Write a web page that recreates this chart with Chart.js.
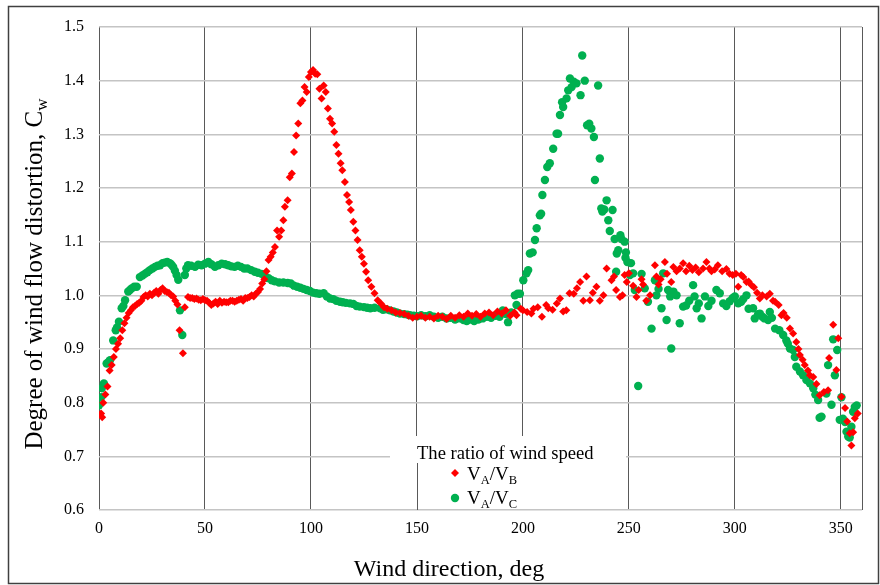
<!DOCTYPE html>
<html>
<head>
<meta charset="utf-8">
<script src="https://cdn.jsdelivr.net/npm/chart.js@4/dist/chart.umd.min.js"></script>
<style>
  body { margin: 0; background: #fff; }
  #wrap { width: 880px; height: 585px; }
</style>
</head>
<body>
<div id="wrap"><canvas id="windChart" width="880" height="585"></canvas></div>
<script>
// Wind direction (deg) and ratio V_A/V_B
const dirB = [
  1, 1.5, 2, 3, 4, 5, 6, 7, 8, 9,
  10, 11, 12, 13, 14, 15, 16, 17, 18, 19,
  20, 21, 22, 23, 24, 25, 26, 27, 28, 29,
  30, 31, 32, 33, 34, 35, 36, 37, 38, 39.6,
  40.5, 42, 43, 44, 45, 46, 47, 48, 49, 50,
  51, 52, 53, 54, 55, 56, 57, 58, 59, 60,
  61, 62, 63, 64, 65, 66, 67, 68, 69, 70,
  71, 72, 73, 74, 75, 76, 77, 78, 79, 80,
  81, 82, 83, 84, 85, 86, 87, 87.7, 89, 90,
  91, 92, 93, 94, 95, 96, 97, 98, 99, 100,
  101, 102, 103, 104, 105, 106, 107, 108, 109, 110,
  111, 112, 113, 114, 114.8, 116, 117, 118, 118.8, 120,
  121, 122, 123, 124, 125, 126, 127, 128.5, 130, 131.5,
  133, 134.5, 136, 138, 140, 142, 144, 146, 148, 150,
  152, 154, 156, 158, 160, 162, 164, 166, 168, 170,
  172, 174, 176, 178, 180, 182, 184, 186, 188, 190,
  192, 194, 196, 197, 199, 200, 202, 204, 205, 207,
  209, 211, 212, 214, 216, 217.5, 219, 220.5, 222, 224,
  225.5, 227, 228.5, 230, 231.6, 233, 234.7, 236.3, 238, 239.5,
  241.8, 243, 244, 245.8, 247, 248, 249, 250, 252, 253.6,
  254.6, 256, 256.7, 258.2, 260, 262.3, 263, 264, 265, 267,
  268, 270, 271, 272.5, 274, 275.6, 277, 278.5, 280, 281.5,
  283, 285, 286.6, 288, 289, 290.5, 292, 294, 296, 297.5,
  299, 300.5, 301.6, 303, 304, 305.5, 306.5, 307.9, 309, 310.5,
  311.8, 313, 315, 316.5, 318, 319, 320.7, 322, 323, 324.5,
  326, 327.5, 329, 330, 330.7, 332, 333, 334.5, 335.4, 337,
  338.5, 340, 342, 344, 344.5, 346.4, 347.9, 348.8, 350.3, 352,
  353, 354.2, 355, 355.8, 356.6, 358
];
const ratioB = [
  0.78, 0.773, 0.80, 0.815, 0.83, 0.86, 0.87, 0.885, 0.90, 0.91,
  0.92, 0.935, 0.948, 0.958, 0.967, 0.972, 0.978, 0.98, 0.984, 0.986,
  0.99, 0.997, 1.0, 0.998, 1.003, 1.0, 1.005, 1.008, 1.003, 1.01,
  1.013, 1.008, 1.006, 1.005, 1.0, 0.998, 0.99, 0.983, 0.935, 0.892,
  0.978, 0.997, 0.995, 0.995, 0.993, 0.994, 0.992, 0.991, 0.993, 0.991,
  0.99, 0.986, 0.982, 0.985, 0.988, 0.984, 0.99, 0.986, 0.988, 0.987,
  0.987, 0.99, 0.99, 0.988, 0.99, 0.992, 0.993, 0.99, 0.995, 0.995,
  0.997, 1.0, 0.998, 1.003, 1.006, 1.012, 1.022, 1.03, 1.045, 1.066,
  1.072, 1.08, 1.09, 1.121, 1.109, 1.121, 1.14, 1.165, 1.177, 1.22,
  1.227, 1.267, 1.298, 1.32, 1.358, 1.363, 1.388, 1.379, 1.407, 1.416,
  1.42, 1.413, 1.412, 1.385, 1.367, 1.391, 1.379, 1.348, 1.329, 1.32,
  1.305, 1.28, 1.264, 1.246, 1.233, 1.211, 1.187, 1.174, 1.159, 1.137,
  1.121, 1.103, 1.084, 1.072, 1.059, 1.044, 1.028, 1.016, 1.004, 0.991,
  0.985, 0.978, 0.975, 0.972, 0.968, 0.967, 0.965, 0.962, 0.958, 0.96,
  0.962, 0.958, 0.96, 0.957, 0.962, 0.96, 0.956, 0.962, 0.958, 0.963,
  0.96, 0.966, 0.962, 0.965, 0.96, 0.966, 0.968, 0.963, 0.97, 0.966,
  0.972, 0.962, 0.968, 0.963, 0.975, 0.972, 0.969, 0.966, 0.975, 0.978,
  0.96, 0.982, 0.976, 0.973, 0.985, 0.994, 0.97, 0.972, 1.004, 1.003,
  1.013, 1.025, 0.99, 1.035, 0.991, 1.005, 1.016, 0.99, 1.0, 1.05,
  1.028, 1.035, 1.01, 0.997, 1.0, 1.038, 1.025, 1.041, 1.018, 0.997,
  1.01, 1.03, 1.02, 0.99, 1.0, 1.056, 1.035, 1.02, 1.03, 1.062,
  1.04, 1.025, 1.053, 1.045, 1.05, 1.06, 1.045, 1.055, 1.047, 1.052,
  1.043, 1.05, 1.062, 1.05, 1.045, 1.048, 1.056, 1.045, 1.049, 1.04,
  1.038, 1.04, 1.016, 1.038, 1.034, 1.025, 1.026, 1.019, 1.015, 1.005,
  0.994, 1.0, 0.998, 1.003, 0.99, 0.988, 0.982, 0.963, 0.967, 0.958,
  0.938, 0.929, 0.913, 0.9, 0.889, 0.88, 0.87, 0.86, 0.851, 0.848,
  0.835, 0.814, 0.82, 0.823, 0.883, 0.945, 0.861, 0.92, 0.811, 0.79,
  0.765, 0.743, 0.72, 0.745, 0.771, 0.78
];

// Wind direction (deg) and ratio V_A/V_C
const dirC = [
  0, 1, 1.3, 2.3, 3.6, 4.5, 5.2, 6.7, 7.9, 8.5,
  9.4, 10.7, 11.5, 12.3, 13.8, 14.6, 15.4, 16.6, 17.8, 19.3,
  20.5, 21.6, 22.8, 24, 25.2, 26.4, 27.6, 28.8, 30, 31,
  32.2, 33.4, 34.2, 35, 35.8, 36.6, 37.4, 38.2, 39.3, 40.5,
  41.2, 42, 43.5, 45.3, 46.8, 48.4, 50, 51.6, 53, 54.7,
  56.3, 57.9, 59.5, 61, 62.5, 64, 65.5, 67, 68.5, 70,
  71.8, 73.5, 75, 76.7, 78.3, 80, 81.5, 83, 85, 87,
  89, 90.5, 92, 93.5, 95, 96.5, 98, 99.5, 101, 102.5,
  104, 106, 107.5, 109, 110.5, 112, 113.7, 115, 116.5, 118.4,
  120, 121.5, 123, 125, 126.5, 128, 130, 132.7, 134, 135.5,
  137.3, 139, 140.5, 142, 144, 145.5, 146.7, 148.5, 150, 152,
  154, 156, 158, 160, 162, 164, 166, 168, 170, 172,
  173.5, 175, 177, 179, 181, 183, 185, 187, 189, 190.5,
  192, 193, 194.5, 196.2, 197, 197.5, 198.6, 200.2, 201.7, 202.5,
  203.3, 204.6, 205.7, 206.5, 208, 208.6, 209.2, 210.4, 211.5, 212.7,
  214.3, 215.9, 216.6, 217.5, 218.5, 219, 220.6, 221.4, 222.2, 223,
  224, 225.3, 227.2, 228, 229.2, 230.3, 231.3, 232.3, 233.5, 234,
  235.5, 236.3, 237, 237.5, 238.4, 239.5, 240.3, 241, 242.3, 243.3,
  244, 244.3, 245, 246, 246.5, 248, 248.4, 248.6, 249.3, 250.5,
  251, 252, 252.8, 254.4, 256, 257.5, 259, 260.7, 262.3, 263,
  264, 265.4, 266.2, 267.8, 268.5, 269.5, 270, 271, 272.5, 274,
  275.6, 277, 278.5, 280.3, 281, 282, 283, 284.3, 285.9, 287.5,
  289, 291.3, 292.9, 294.5, 296, 297.6, 299, 300, 301.6, 303,
  304, 305.5, 306.5, 308.6, 309.4, 311, 311.8, 313, 314, 315.7,
  316.5, 317.5, 319, 321, 322.8, 324.3, 325, 326, 327.5, 328.3,
  329, 330.7, 332.2, 333.8, 335.4, 337, 338, 339.3, 340, 340.9,
  343.2, 344, 345.6, 346.4, 347.2, 348.3, 349.5, 350.3, 351, 352,
  352.7, 353.5, 354.2, 355, 355.8, 356.6, 357.5
];
const ratioC = [
  0.795, 0.81, 0.827, 0.836, 0.873, 0.876, 0.879, 0.916, 0.935, 0.94,
  0.951, 0.976, 0.98, 0.991, 1.007, 1.01, 1.013, 1.016, 1.016, 1.034,
  1.037, 1.04, 1.043, 1.047, 1.05, 1.053, 1.055, 1.056, 1.06, 1.061,
  1.062, 1.06, 1.057, 1.053, 1.046, 1.038, 1.029, 0.972, 0.926, 1.038,
  1.05, 1.056, 1.055, 1.053, 1.057, 1.056, 1.059, 1.062, 1.058, 1.053,
  1.056, 1.059, 1.058, 1.056, 1.054, 1.053, 1.055, 1.053, 1.05, 1.05,
  1.047, 1.044, 1.042, 1.04, 1.036, 1.032, 1.028, 1.026, 1.024, 1.024,
  1.023, 1.022, 1.018, 1.016, 1.014, 1.012, 1.01, 1.008, 1.005, 1.004,
  1.003, 1.004, 0.998, 0.994, 0.993, 0.99, 0.988, 0.987, 0.986, 0.985,
  0.984, 0.98, 0.979, 0.978, 0.977, 0.976, 0.977, 0.976, 0.973, 0.974,
  0.972, 0.97, 0.968, 0.966, 0.965, 0.964, 0.963, 0.962, 0.961, 0.963,
  0.961, 0.963, 0.96, 0.958, 0.96, 0.957, 0.958, 0.955, 0.957, 0.954,
  0.952, 0.955, 0.952, 0.955, 0.957, 0.96, 0.958, 0.962, 0.96, 0.972,
  0.965, 0.95, 0.968, 1.0, 0.982, 1.003, 1.003, 1.028, 1.041, 1.047,
  1.078, 1.08, 1.103, 1.125, 1.149, 1.152, 1.187, 1.215, 1.239, 1.246,
  1.273, 1.301, 1.301, 1.336, 1.36, 1.351, 1.367, 1.382, 1.404, 1.388,
  1.398, 1.395, 1.373, 1.447, 1.40, 1.317, 1.32, 1.311, 1.295, 1.215,
  1.391, 1.255, 1.162, 1.156, 1.16, 1.177, 1.14, 1.12, 1.159, 1.105,
  1.044, 1.078, 1.084, 1.112, 1.105, 1.10, 1.07, 1.08, 1.062, 1.038,
  1.06, 1.041, 1.01, 0.831, 1.04, 1.013, 0.988, 0.938, 1.028, 1.0,
  1.012, 0.976, 1.041, 0.954, 1.01, 0.998, 0.901, 1.007, 1.0, 0.948,
  0.979, 0.981, 0.99, 1.019, 0.998, 0.976, 0.985, 0.957, 0.998, 0.98,
  0.99, 1.01, 1.004, 0.985, 0.98, 0.989, 0.995, 0.998, 0.985, 0.988,
  0.993, 1.0, 0.975, 0.976, 0.957, 0.965, 0.966, 0.96, 0.957, 0.954,
  0.969, 0.958, 0.938, 0.935, 0.926, 0.916, 0.91, 0.901, 0.898, 0.885,
  0.867, 0.858, 0.851, 0.842, 0.836, 0.827, 0.815, 0.805, 0.772, 0.774,
  0.817, 0.87, 0.796, 0.918, 0.851, 0.898, 0.768, 0.81, 0.77, 0.764,
  0.746, 0.737, 0.735, 0.755, 0.783, 0.792, 0.795
];

// Axis ticks
const xTicks = [0, 50, 100, 150, 200, 250, 300, 350, 360];
const yTicks = [0.6, 0.7, 0.8, 0.9, 1.0, 1.1, 1.2, 1.3, 1.4, 1.5];

const serif = '"Liberation Serif", "Times New Roman", serif';
const RED = '#ff0000';
const GREEN = '#00b050';

function toPoints(xs, ys) {
  return xs.map((x, i) => ({ x: x, y: ys[i] }));
}

// Frame, axis titles and legend box (subscripts need manual drawing)
const decorations = {
  id: 'decorations',
  afterDraw(chart) {
    const ctx = chart.ctx;
    const xs = chart.scales.x;
    ctx.save();

    // outer frame
    ctx.strokeStyle = '#404040';
    ctx.lineWidth = 1.5;
    ctx.strokeRect(8.5, 6.5, 870, 577);

    // x axis title
    ctx.fillStyle = '#000';
    ctx.font = '24px ' + serif;
    ctx.textAlign = 'center';
    ctx.textBaseline = 'alphabetic';
    ctx.fillText('Wind direction, deg', 449, 576);

    // y axis title with subscript
    ctx.save();
    ctx.translate(42, 274);
    ctx.rotate(-Math.PI / 2);
    ctx.textAlign = 'left';
    const main = 'Degree of wind flow distortion, C';
    ctx.font = '25px ' + serif;
    const w1 = ctx.measureText(main).width;
    ctx.font = '17px ' + serif;
    const w2 = ctx.measureText('w').width;
    const start = -(w1 + w2) / 2;
    ctx.font = '25px ' + serif;
    ctx.fillText(main, start, 0);
    ctx.font = '17px ' + serif;
    ctx.fillText('w', start + w1, 5);
    ctx.restore();

    // legend box
    ctx.fillStyle = '#fff';
    ctx.fillRect(390, 436, 236, 73);
    const gx = Math.round(xs.getPixelForValue(150)) + 0.5;
    ctx.strokeStyle = '#595959';
    ctx.lineWidth = 1;
    ctx.beginPath();
    ctx.moveTo(gx, 463);
    ctx.lineTo(gx, chart.chartArea.bottom);
    ctx.stroke();

    ctx.fillStyle = '#000';
    ctx.textAlign = 'left';
    ctx.font = '18.6px ' + serif;
    ctx.fillText('The ratio of wind speed', 417, 459);

    // red diamond
    ctx.fillStyle = RED;
    ctx.beginPath();
    ctx.moveTo(455, 469);
    ctx.lineTo(459, 473);
    ctx.lineTo(455, 477);
    ctx.lineTo(451, 473);
    ctx.closePath();
    ctx.fill();
    // green circle
    ctx.fillStyle = GREEN;
    ctx.beginPath();
    ctx.arc(455, 498, 4.2, 0, Math.PI * 2);
    ctx.fill();

    function ratioLabel(x, y, sub2) {
      let cx = x;
      const parts = [['V', 19, 0], ['A', 12.5, 4], ['/V', 19, 0], [sub2, 12.5, 4]];
      ctx.fillStyle = '#000';
      parts.forEach(p => {
        ctx.font = p[1] + 'px ' + serif;
        ctx.fillText(p[0], cx, y + p[2]);
        cx += ctx.measureText(p[0]).width;
      });
    }
    ratioLabel(467, 480, 'B');
    ratioLabel(467, 504, 'C');

    ctx.restore();
  }
};

const ctx = document.getElementById('windChart').getContext('2d');
new Chart(ctx, {
  type: 'scatter',
  data: {
    datasets: [
      {
        label: 'VA/VB',
        data: toPoints(dirB, ratioB),
        pointStyle: 'rectRot',
        pointRadius: 4,
        backgroundColor: RED,
        borderColor: RED,
        borderWidth: 0
      },
      {
        label: 'VA/VC',
        data: toPoints(dirC, ratioC),
        pointStyle: 'circle',
        pointRadius: 4.2,
        backgroundColor: GREEN,
        borderColor: GREEN,
        borderWidth: 0
      }
    ]
  },
  options: {
    responsive: false,
    animation: false,
    layout: { padding: { top: 27, right: 18, left: 0, bottom: 0 } },
    plugins: {
      legend: { display: false },
      tooltip: { enabled: false }
    },
    scales: {
      x: {
        type: 'linear',
        min: 0,
        max: 360,
        afterBuildTicks: s => { s.ticks = xTicks.map(v => ({ value: v })); },
        afterFit: s => { s.height = 75; },
        ticks: {
          padding: 9,
          color: '#000',
          font: { family: serif, size: 16 },
          callback: v => (v === 360 ? '' : v)
        },
        grid: { color: '#595959', lineWidth: 1, drawTicks: false },
        border: { display: false }
      },
      y: {
        min: 0.6,
        max: 1.5,
        afterBuildTicks: s => { s.ticks = yTicks.map(v => ({ value: v })); },
        afterFit: s => { s.width = 99; },
        ticks: {
          padding: 15,
          color: '#000',
          font: { family: serif, size: 16 },
          callback: v => Number(v).toFixed(1)
        },
        grid: { color: '#c4c4c4', lineWidth: 1.5, drawTicks: false },
        border: { display: false }
      }
    }
  },
  plugins: [decorations]
});
</script>
</body>
</html>
